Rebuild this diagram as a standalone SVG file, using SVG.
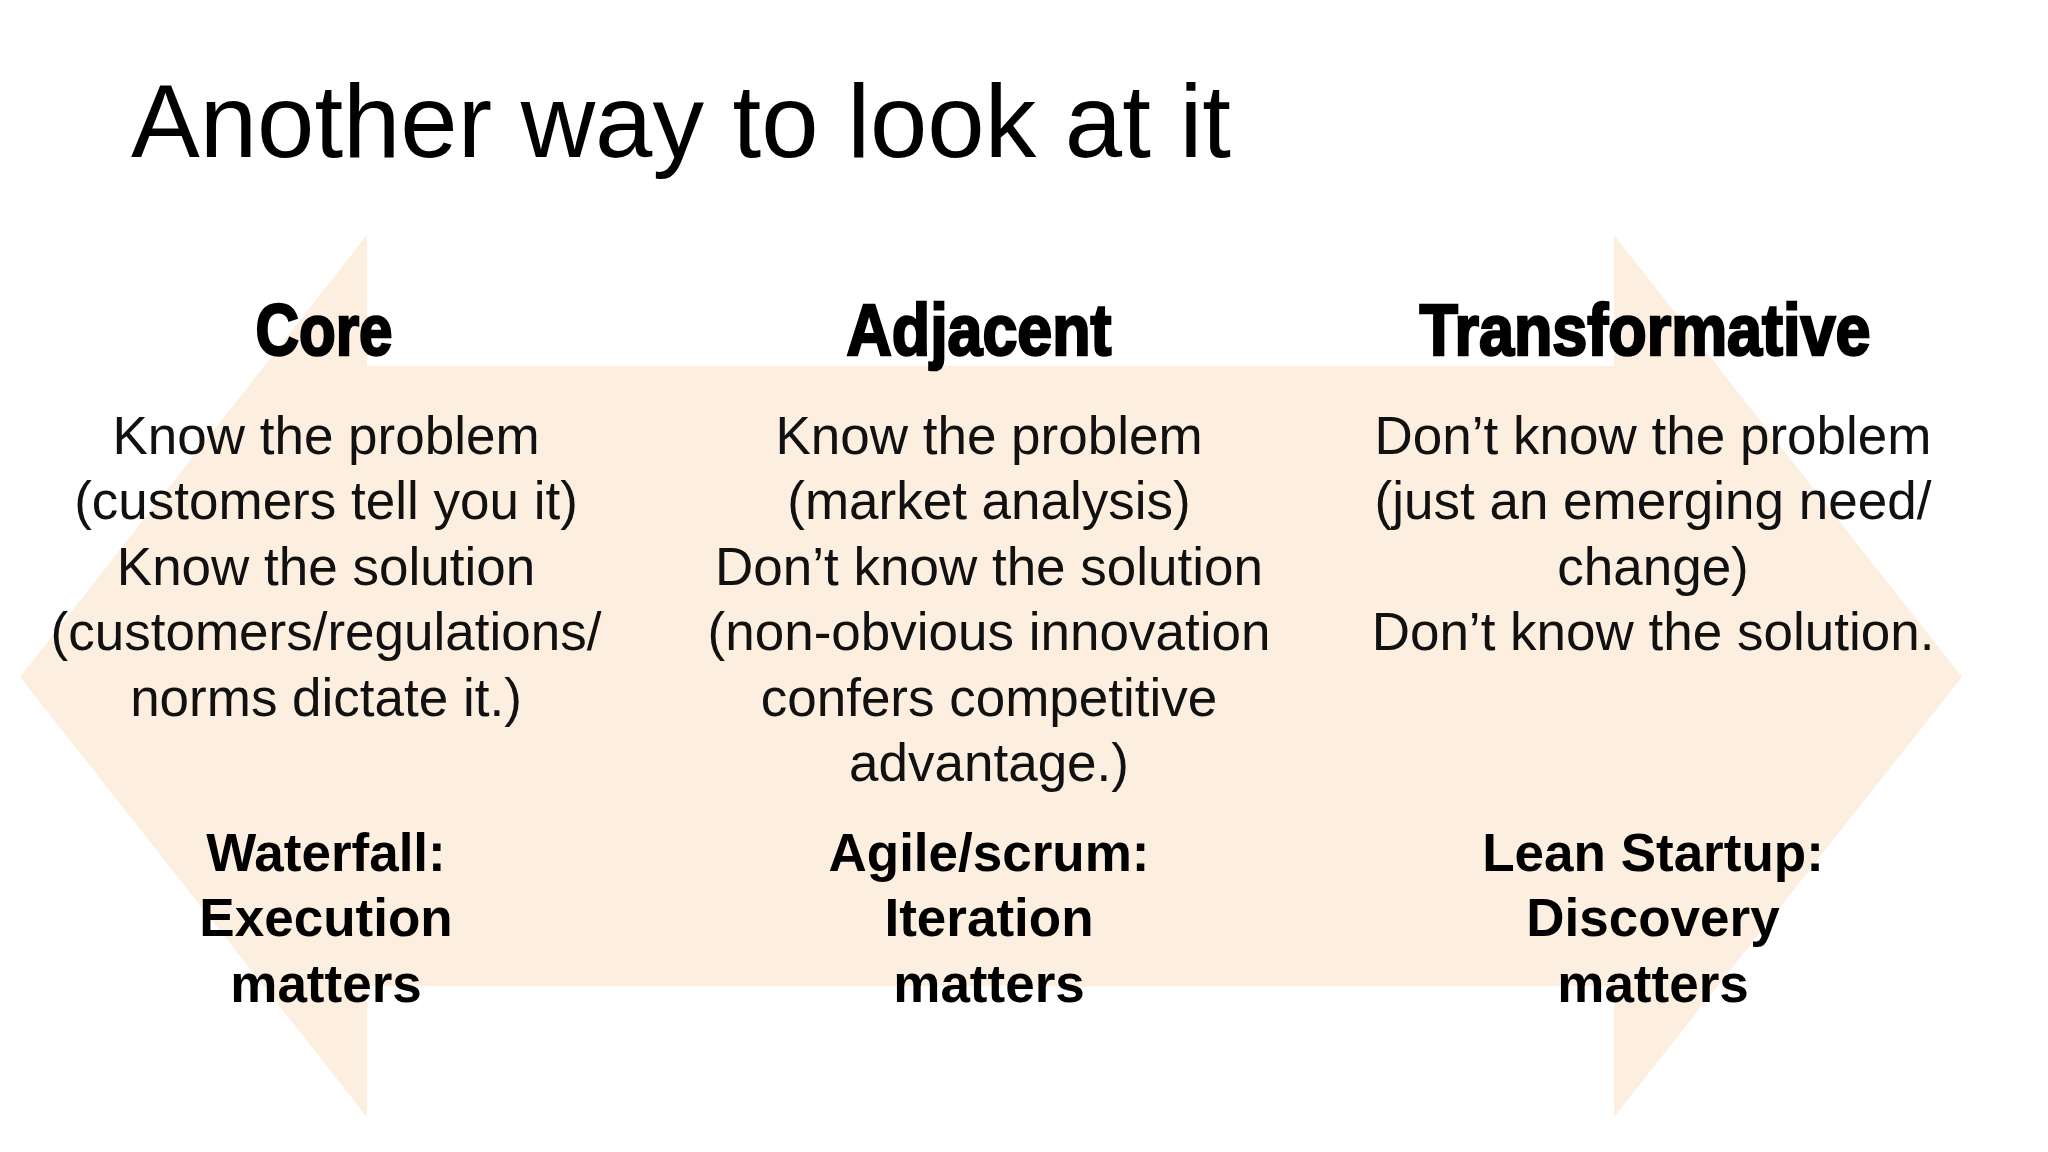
<svg xmlns="http://www.w3.org/2000/svg" width="2048" height="1152" viewBox="0 0 2048 1152">
<style>
.title{font-family:"Liberation Sans",Arial,sans-serif;font-size:104px;fill:#000}
.head{font-family:"Liberation Sans",Arial,sans-serif;font-weight:bold;font-size:72px;fill:#000;stroke:#000;stroke-width:2.5;text-anchor:middle}
.body{font-family:"Liberation Sans",Arial,sans-serif;font-size:53px;fill:#111;text-anchor:middle}
.bold{font-family:"Liberation Sans",Arial,sans-serif;font-weight:bold;font-size:53px;fill:#000;text-anchor:middle}
</style>
<rect width="2048" height="1152" fill="#ffffff"/>
<g id="arrow">
<path d="M20,677 L367,235 L367,366 L1614,366 L1614,235 L1962,677 L1614,1117 L1614,986 L367,986 L367,1117 Z" fill="#fdefdf"/>
</g>
<text class="title" x="131" y="157" textLength="1100" lengthAdjust="spacingAndGlyphs">Another way to look at it</text>
<g id="core">
<text class="head" x="324" y="355" textLength="137" lengthAdjust="spacingAndGlyphs">Core</text>
<text class="body" x="326" y="454">Know the problem</text>
<text class="body" x="326" y="519">(customers tell you it)</text>
<text class="body" x="326" y="585">Know the solution</text>
<text class="body" x="326" y="650">(customers/regulations/</text>
<text class="body" x="326" y="716">norms dictate it.)</text>
<text class="bold" x="326" y="871">Waterfall:</text>
<text class="bold" x="326" y="936">Execution</text>
<text class="bold" x="326" y="1002">matters</text>
</g>
<g id="adjacent">
<text class="head" x="979" y="355" textLength="265" lengthAdjust="spacingAndGlyphs">Adjacent</text>
<text class="body" x="989" y="454">Know the problem</text>
<text class="body" x="989" y="519">(market analysis)</text>
<text class="body" x="989" y="585">Don’t know the solution</text>
<text class="body" x="989" y="650">(non-obvious innovation</text>
<text class="body" x="989" y="716">confers competitive</text>
<text class="body" x="989" y="781">advantage.)</text>
<text class="bold" x="989" y="871">Agile/scrum:</text>
<text class="bold" x="989" y="936">Iteration</text>
<text class="bold" x="989" y="1002">matters</text>
</g>
<g id="transformative">
<text class="head" x="1645" y="355" textLength="451" lengthAdjust="spacingAndGlyphs">Transformative</text>
<text class="body" x="1653" y="454">Don’t know the problem</text>
<text class="body" x="1653" y="519">(just an emerging need/</text>
<text class="body" x="1653" y="585">change)</text>
<text class="body" x="1653" y="650">Don’t know the solution.</text>
<text class="bold" x="1653" y="871">Lean Startup:</text>
<text class="bold" x="1653" y="936">Discovery</text>
<text class="bold" x="1653" y="1002">matters</text>
</g>
<g id="connectors"></g>
</svg>
